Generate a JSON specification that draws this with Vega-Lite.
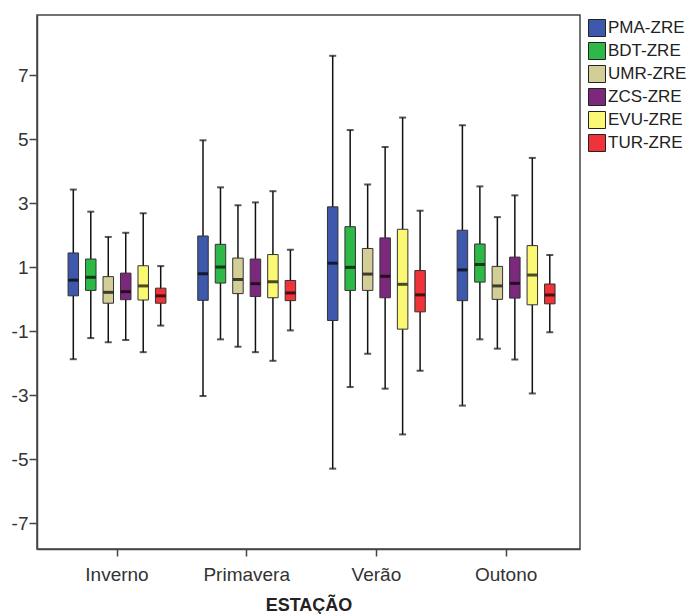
{
  "$schema": "https://vega.github.io/schema/vega-lite/v6.json",
  "autosize": {"type": "none"},
  "padding": {"left": 37, "top": 15, "right": 110, "bottom": 65},
  "width": 543,
  "height": 534,
  "background": "white",
  "config": {
    "font": "Liberation Sans",
    "view": {"stroke": "#444444", "strokeWidth": 1.5},
    "axis": {
      "domainColor": "#444444",
      "domainWidth": 1.5,
      "tickColor": "#444444",
      "tickWidth": 1.5,
      "labelFont": "Liberation Sans",
      "labelColor": "#333333",
      "grid": false
    },
    "legend": {
      "orient": "none",
      "legendX": 551,
      "legendY": 4,
      "title": null,
      "padding": 0,
      "labelFont": "Liberation Sans",
      "labelFontSize": 17,
      "labelColor": "#222222",
      "labelOffset": 2,
      "symbolType": "square",
      "symbolSize": 289,
      "symbolStrokeColor": "#222222",
      "symbolStrokeWidth": 1,
      "rowPadding": 1
    }
  },
  "data": {
    "values": [
      {"estacao": "Inverno", "serie": "PMA-ZRE", "lower": -1.88, "q1": 0.10, "median": 0.59, "q3": 1.44, "upper": 3.42},
      {"estacao": "Inverno", "serie": "BDT-ZRE", "lower": -1.22, "q1": 0.27, "median": 0.68, "q3": 1.25, "upper": 2.73},
      {"estacao": "Inverno", "serie": "UMR-ZRE", "lower": -1.35, "q1": -0.13, "median": 0.21, "q3": 0.70, "upper": 1.94},
      {"estacao": "Inverno", "serie": "ZCS-ZRE", "lower": -1.28, "q1": -0.02, "median": 0.23, "q3": 0.81, "upper": 2.07},
      {"estacao": "Inverno", "serie": "EVU-ZRE", "lower": -1.66, "q1": -0.03, "median": 0.41, "q3": 1.04, "upper": 2.68},
      {"estacao": "Inverno", "serie": "TUR-ZRE", "lower": -0.83, "q1": -0.13, "median": 0.10, "q3": 0.34, "upper": 1.03},
      {"estacao": "Primavera", "serie": "PMA-ZRE", "lower": -3.03, "q1": -0.04, "median": 0.79, "q3": 1.97, "upper": 4.96},
      {"estacao": "Primavera", "serie": "BDT-ZRE", "lower": -1.26, "q1": 0.50, "median": 1.00, "q3": 1.71, "upper": 3.49},
      {"estacao": "Primavera", "serie": "UMR-ZRE", "lower": -1.49, "q1": 0.17, "median": 0.61, "q3": 1.28, "upper": 2.93},
      {"estacao": "Primavera", "serie": "ZCS-ZRE", "lower": -1.66, "q1": 0.08, "median": 0.48, "q3": 1.25, "upper": 3.02},
      {"estacao": "Primavera", "serie": "EVU-ZRE", "lower": -1.93, "q1": 0.04, "median": 0.54, "q3": 1.39, "upper": 3.37},
      {"estacao": "Primavera", "serie": "TUR-ZRE", "lower": -0.98, "q1": -0.05, "median": 0.19, "q3": 0.58, "upper": 1.54},
      {"estacao": "Verão", "serie": "PMA-ZRE", "lower": -5.30, "q1": -0.67, "median": 1.12, "q3": 2.88, "upper": 7.60},
      {"estacao": "Verão", "serie": "BDT-ZRE", "lower": -2.75, "q1": 0.27, "median": 0.99, "q3": 2.26, "upper": 5.28},
      {"estacao": "Verão", "serie": "UMR-ZRE", "lower": -1.71, "q1": 0.27, "median": 0.78, "q3": 1.58, "upper": 3.58},
      {"estacao": "Verão", "serie": "ZCS-ZRE", "lower": -2.80, "q1": 0.04, "median": 0.71, "q3": 1.91, "upper": 4.75},
      {"estacao": "Verão", "serie": "EVU-ZRE", "lower": -4.23, "q1": -0.94, "median": 0.46, "q3": 2.18, "upper": 5.67},
      {"estacao": "Verão", "serie": "TUR-ZRE", "lower": -2.24, "q1": -0.40, "median": 0.13, "q3": 0.89, "upper": 2.76},
      {"estacao": "Outono", "serie": "PMA-ZRE", "lower": -3.33, "q1": -0.05, "median": 0.91, "q3": 2.15, "upper": 5.43},
      {"estacao": "Outono", "serie": "BDT-ZRE", "lower": -1.26, "q1": 0.53, "median": 1.08, "q3": 1.72, "upper": 3.52},
      {"estacao": "Outono", "serie": "UMR-ZRE", "lower": -1.55, "q1": -0.01, "median": 0.41, "q3": 1.02, "upper": 2.56},
      {"estacao": "Outono", "serie": "ZCS-ZRE", "lower": -1.89, "q1": 0.03, "median": 0.49, "q3": 1.31, "upper": 3.24},
      {"estacao": "Outono", "serie": "EVU-ZRE", "lower": -2.95, "q1": -0.18, "median": 0.75, "q3": 1.67, "upper": 4.41},
      {"estacao": "Outono", "serie": "TUR-ZRE", "lower": -1.04, "q1": -0.15, "median": 0.13, "q3": 0.47, "upper": 1.38}
    ]
  },
  "encoding": {
    "x": {
      "field": "estacao",
      "type": "nominal",
      "scale": {"domain": ["Inverno", "Primavera", "Verão", "Outono"], "paddingInner": 0, "paddingOuter": 0.0933, "align": 0.626},
      "axis": {
        "title": "ESTAÇÃO",
        "titleFont": "Liberation Sans",
        "titleFontSize": 18,
        "titleFontWeight": "bold",
        "titleColor": "#222222",
        "titlePadding": 12,
        "labelAngle": 0,
        "labelFontSize": 19,
        "tickSize": 7,
        "labelPadding": 9
      }
    },
    "xOffset": {
      "field": "serie",
      "type": "nominal",
      "scale": {
        "domain": ["PMA-ZRE", "BDT-ZRE", "UMR-ZRE", "ZCS-ZRE", "EVU-ZRE", "TUR-ZRE"],
        "paddingInner": 0.4,
        "paddingOuter": 0.91
      }
    }
  },
  "layer": [
    {
      "mark": {"type": "rule", "color": "#111111", "strokeWidth": 1.5},
      "encoding": {
        "y": {
          "field": "lower",
          "type": "quantitative",
          "scale": {"domain": [-7.81, 8.875], "nice": false, "zero": false},
          "axis": {
            "title": null,
            "values": [-7, -5, -3, -1, 1, 3, 5, 7],
            "labelExpr": "'' + datum.value",
            "labelFontSize": 19,
            "tickSize": 8,
            "labelPadding": 1
          }
        },
        "y2": {"field": "upper"}
      }
    },
    {
      "mark": {"type": "tick", "color": "#111111", "size": 7, "thickness": 2},
      "encoding": {"y": {"field": "lower", "type": "quantitative"}}
    },
    {
      "mark": {"type": "tick", "color": "#111111", "size": 7, "thickness": 2},
      "encoding": {"y": {"field": "upper", "type": "quantitative"}}
    },
    {
      "mark": {"type": "bar", "stroke": "#333333", "strokeWidth": 1, "opacity": 1},
      "encoding": {
        "y": {"field": "q1", "type": "quantitative"},
        "y2": {"field": "q3"},
        "color": {
          "field": "serie",
          "type": "nominal",
          "scale": {
            "domain": ["PMA-ZRE", "BDT-ZRE", "UMR-ZRE", "ZCS-ZRE", "EVU-ZRE", "TUR-ZRE"],
            "range": ["#3E58AC", "#2EB848", "#D3CE97", "#7C287D", "#FBF873", "#EF3338"]
          }
        }
      }
    },
    {
      "mark": {"type": "tick", "color": "#000000", "size": 10, "thickness": 3},
      "encoding": {"y": {"field": "median", "type": "quantitative"}}
    }
  ]
}
